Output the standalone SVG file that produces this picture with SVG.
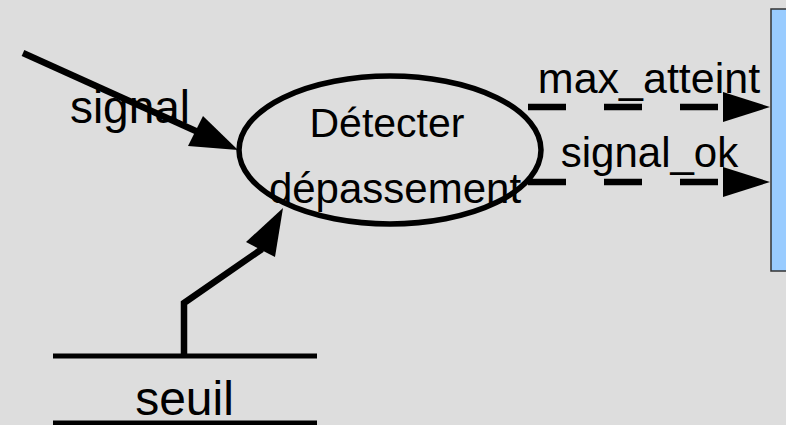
<svg xmlns="http://www.w3.org/2000/svg" width="786" height="425" viewBox="0 0 786 425">
  <style>
    .lbl { font-family: "Liberation Sans", Arial, sans-serif; fill: #000; text-anchor: middle; }
    .flow { fill: none; stroke: #000; stroke-width: 6.5; }
    .dash { fill: none; stroke: #000; stroke-width: 6.5; stroke-dasharray: 38 38; }
    .head { fill: #000; stroke: none; }
  </style>
  <rect x="0" y="0" width="786" height="425" fill="#dddddd"/>

  <!-- external entity (partly off the right edge) -->
  <g id="entity">
    <rect x="771" y="9" width="30" height="262" fill="#99ccff" stroke="#333" stroke-width="1.5"/>
  </g>

  <!-- process bubble -->
  <g id="process">
    <ellipse cx="390" cy="150" rx="151" ry="74" fill="none" stroke="#000" stroke-width="5.5"/>
    <text class="lbl" x="387" y="137" font-size="41">Détecter</text>
    <text class="lbl" x="395" y="203" font-size="42">dépassement</text>
  </g>

  <!-- data store -->
  <g id="store">
    <line x1="53" y1="356" x2="317" y2="356" stroke="#000" stroke-width="5"/>
    <line x1="53" y1="423" x2="317" y2="423" stroke="#000" stroke-width="5"/>
    <text class="lbl" x="184.5" y="415" font-size="48">seuil</text>
  </g>

  <!-- flows -->
  <g id="connectors">
    <!-- signal in -->
    <line class="flow" x1="23" y1="53" x2="198" y2="132"/>
    <polygon class="head" points="238,150 203,116 188,146"/>
    <text class="lbl" x="130" y="123" font-size="46">signal</text>

    <!-- threshold read from store -->
    <polyline class="flow" points="184,356 184,303 262,249"/>
    <polygon class="head" points="283,208 246,242 275,257"/>

    <!-- outputs to entity -->
    <line class="dash" x1="528" y1="107" x2="724" y2="107"/>
    <polygon class="head" points="770,107 723,92 723,122"/>
    <text class="lbl" x="649" y="93" font-size="43">max_atteint</text>

    <line class="dash" x1="528" y1="182" x2="724" y2="182"/>
    <polygon class="head" points="770,182 723,167 723,197"/>
    <text class="lbl" x="649.5" y="167" font-size="42">signal_ok</text>
  </g>
</svg>
